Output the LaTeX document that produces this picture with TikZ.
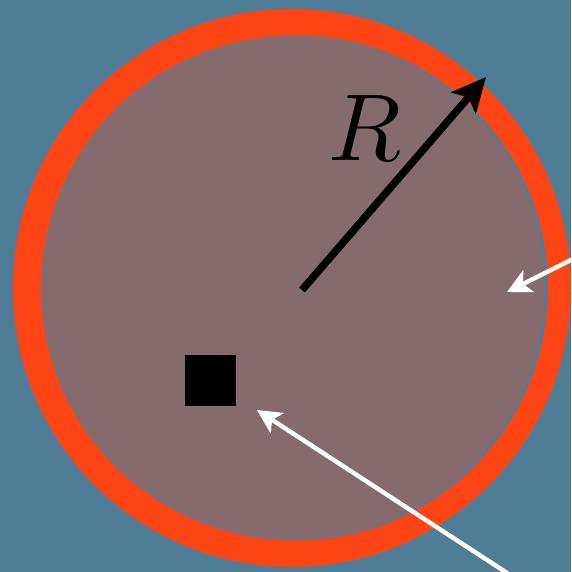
\documentclass[tikz,border=0pt]{standalone}
\usetikzlibrary{arrows.meta}
\definecolor{fond}{RGB}{80,125,150}
\definecolor{anneau}{RGB}{252,68,20}
\definecolor{disque}{RGB}{134,107,110}
\begin{document}
\begin{tikzpicture}[x=1pt, y=-1pt,
  rayon/.style={black, line width=7.5pt, -{Stealth[length=34pt, width=32pt, inset=7pt]}},
  fleche/.style={white, line width=4.4pt, -{Stealth[length=24pt, width=24pt, inset=6pt]}}]
  % Fond
  \useasboundingbox (0,0) rectangle (571,572);
  \clip (0,0) rectangle (571,572);
  \fill[fond] (0,0) rectangle (571,572);
  % Anneau et disque
  \fill[anneau] (292,288) circle (279pt);
  \fill[fond] (295.5,288) circle (252.5pt);
  \fill[disque] (293,288) circle (252pt);
  % Rayon R
  \coordinate (centre) at (302,290);
  \coordinate (bord) at (486,77);
  \draw[rayon] (centre) -- (bord);
  \node[scale=9.5, inner sep=0pt] (lblR) at (365,128) {$R$};
  % Source (carre noir)
  \node[fill=black, minimum size=51pt, inner sep=0pt] (source) at (210,380.5) {};
  % Fleches blanches
  \coordinate (dep1) at (600,245.5);
  \coordinate (pt1) at (507,292);
  \draw[fleche] (dep1) -- (pt1);
  \coordinate (dep2) at (560,607.5);
  \coordinate (pt2) at (257,410);
  \draw[fleche] (dep2) -- (pt2);
\end{tikzpicture}
\end{document}
